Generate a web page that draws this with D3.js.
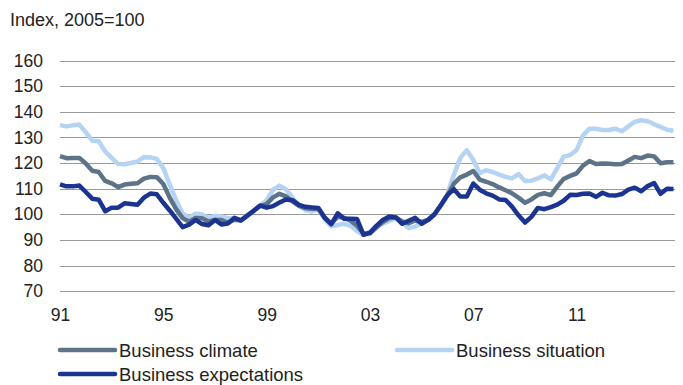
<!DOCTYPE html>
<html>
<head>
<meta charset="utf-8">
<script src="https://cdn.jsdelivr.net/npm/d3@7"></script>
<style>
  body { margin: 0; background: #fff; }
  svg { display: block; font-family: "Liberation Sans", Arial, sans-serif; }
</style>
</head>
<body>
<div class="chart"></div>
<script>
// GLOBAL VARIABLES
var w = 683;
var h = 385;

// quarterly readings, 1991Q1 .. 2014Q4 (index 2005 = 100)
var situation = [
  134.8, 134.3, 134.7, 135.0, 132.0, 128.7, 128.5, 124.5,
  122.0, 119.6, 119.5, 120.0, 120.6, 122.3, 122.2, 121.6,
  118.0, 111.6, 105.5, 100.4, 98.7, 100.2, 99.9, 98.6,
  99.4, 99.2, 98.5, 98.5, 97.6, 99.3, 101.4, 103.4,
  105.5, 109.5, 111.2, 109.7, 106.5, 103.5, 101.7, 101.1,
  102.0, 98.0, 95.3, 95.8, 96.3, 95.5, 93.5, 92.0,
  93.2, 95.3, 96.3, 97.4, 98.5, 96.8, 94.6, 95.2,
  96.5, 97.8, 100.0, 103.6, 108.0, 115.5, 122.0, 125.0,
  121.2, 116.1, 117.2, 116.5, 115.5, 114.6, 114.0, 115.7,
  113.0, 113.1, 114.0, 115.2, 113.6, 118.0, 122.5, 123.1,
  125.1, 130.8, 133.4, 133.4, 132.9, 132.9, 133.4, 132.4,
  134.3, 136.1, 136.7, 136.3, 135.1, 134.1, 133.0, 132.6
];
var climate = [
  122.7, 121.9, 122.0, 122.0, 119.8, 117.0, 116.5, 113.0,
  112.1, 110.6, 111.6, 111.9, 112.1, 113.9, 114.6, 114.5,
  111.8, 106.5, 102.0, 98.5, 97.1, 98.6, 98.5, 97.2,
  97.8, 97.8, 96.7, 97.9, 97.6, 99.3, 101.3, 103.3,
  104.0, 106.6, 108.0, 107.0, 105.0, 103.3, 102.4, 102.2,
  102.1, 98.6, 96.4, 99.0, 98.6, 97.5, 95.5, 92.5,
  92.6, 94.8, 97.0, 98.5, 98.8, 97.2, 96.5, 97.6,
  97.0, 97.8, 100.0, 103.6, 107.5, 112.0, 114.4, 115.5,
  116.9, 113.5, 112.7, 111.8, 110.5, 109.4, 108.2, 106.5,
  104.5, 105.8, 107.6, 108.2, 107.5, 110.8, 113.8, 115.0,
  116.0, 119.0, 120.8, 119.6, 119.8, 119.7, 119.5, 119.6,
  121.0, 122.4, 121.9, 122.9, 122.6, 119.9, 120.3, 120.3
];
var expectations = [
  111.7, 110.9, 110.9, 111.2, 108.7, 106.1, 105.7, 101.2,
  102.6, 102.6, 104.3, 104.0, 103.7, 106.5, 108.1, 107.8,
  104.5, 101.5, 98.3, 95.0, 96.0, 97.8, 96.2, 95.7,
  97.8, 96.0, 96.4, 98.6, 97.6, 99.5, 101.4, 103.4,
  102.6, 103.2, 104.6, 105.8, 105.5, 103.7, 102.9, 102.7,
  102.5, 98.7, 96.1, 100.4, 98.3, 98.3, 98.2, 92.0,
  92.8, 95.5, 97.8, 99.1, 98.8, 96.3, 97.5, 98.6,
  96.3, 97.8, 100.0, 103.6, 107.5, 109.8, 106.9, 106.9,
  112.0, 109.6, 108.2, 107.3, 105.8, 105.6, 103.0, 99.6,
  96.8, 99.0, 102.5, 102.0, 102.8, 103.8, 105.3, 107.6,
  107.5, 108.0, 108.1, 106.8, 108.4, 107.4, 107.3, 107.9,
  109.6, 110.4, 109.0, 111.0, 112.2, 108.0, 110.0, 109.9
];

var yTicks = [70, 80, 90, 100, 110, 120, 130, 140, 150, 160];
var xTickYears = [1991, 1995, 1999, 2003, 2007, 2011];

var seriesNames = ["Business climate", "Business situation", "Business expectations"];
var seriesColors = {
  "Business climate": "#5d7388",
  "Business situation": "#b5d3f2",
  "Business expectations": "#1c3491"
};

// one date per quarter
var quarters = situation.map(function (d, i) { return new Date(1991, i * 3, 1); });

var svg = d3.select(".chart").append("svg").attr("width", w).attr("height", h);

// SCALES
var xScale = d3.scaleTime()
  .domain([new Date(1991, 0, 1), new Date(2015, 0, 1)])
  .range([60, 680]);
var yScale = d3.scaleLinear()
  .domain([70, 160])
  .range([291.2, 60.5]);

// title
svg.append("text")
  .attr("x", 10)
  .attr("y", 26)
  .attr("font-size", "18px")
  .attr("fill", "#222")
  .text("Index, 2005=100");

// y-axis with gridlines
var yAxis = d3.axisLeft(yScale)
  .tickValues(yTicks)
  .tickSize(-(675 - 60))
  .tickPadding(17)
  .tickFormat(d3.format("d"));

var gy = svg.append("g")
  .attr("transform", "translate(60,0)")
  .call(yAxis);
gy.select(".domain").remove();
gy.selectAll(".tick line").attr("stroke", "#9a9a9a").attr("shape-rendering", "crispEdges");
gy.selectAll(".tick text")
  .attr("font-size", "17.5px")
  .attr("font-family", "'Liberation Sans', Arial, sans-serif")
  .attr("fill", "#222");

// x-axis, labels only
var xAxis = d3.axisBottom(xScale)
  .tickValues(xTickYears.map(function (y) { return new Date(y, 0, 1); }))
  .tickSize(0)
  .tickPadding(17)
  .tickFormat(d3.timeFormat("%y"));

var gx = svg.append("g")
  .attr("transform", "translate(0,291.2)")
  .call(xAxis);
gx.select(".domain").remove();
gx.selectAll(".tick text")
  .attr("font-size", "17.5px")
  .attr("font-family", "'Liberation Sans', Arial, sans-serif")
  .attr("fill", "#222");

// LINES
var line = d3.line()
  .x(function (d, i) { return xScale(quarters[i]); })
  .y(function (d) { return yScale(d); });

var drawOrder = [
  ["Business situation", situation],
  ["Business climate", climate],
  ["Business expectations", expectations]
];

drawOrder.forEach(function (s) {
  svg.append("path")
    .datum(s[1])
    .attr("fill", "none")
    .attr("stroke", seriesColors[s[0]])
    .attr("stroke-width", 4.5)
    .attr("stroke-linejoin", "round")
    .attr("d", line);
});

// LEGEND
var legendPos = [
  { x: 60, y: 350 },
  { x: 397, y: 350 },
  { x: 60, y: 374 }
];

seriesNames.forEach(function (name, i) {
  var p = legendPos[i];
  svg.append("line")
    .attr("x1", p.x).attr("x2", p.x + 55)
    .attr("y1", p.y).attr("y2", p.y)
    .attr("stroke", seriesColors[name])
    .attr("stroke-width", 4.5)
    .attr("stroke-linecap", "round");
  svg.append("text")
    .attr("x", p.x + 59)
    .attr("y", p.y + 6.5)
    .attr("font-size", "18.5px")
    .attr("fill", "#222")
    .text(name);
});
</script>
</body>
</html>
